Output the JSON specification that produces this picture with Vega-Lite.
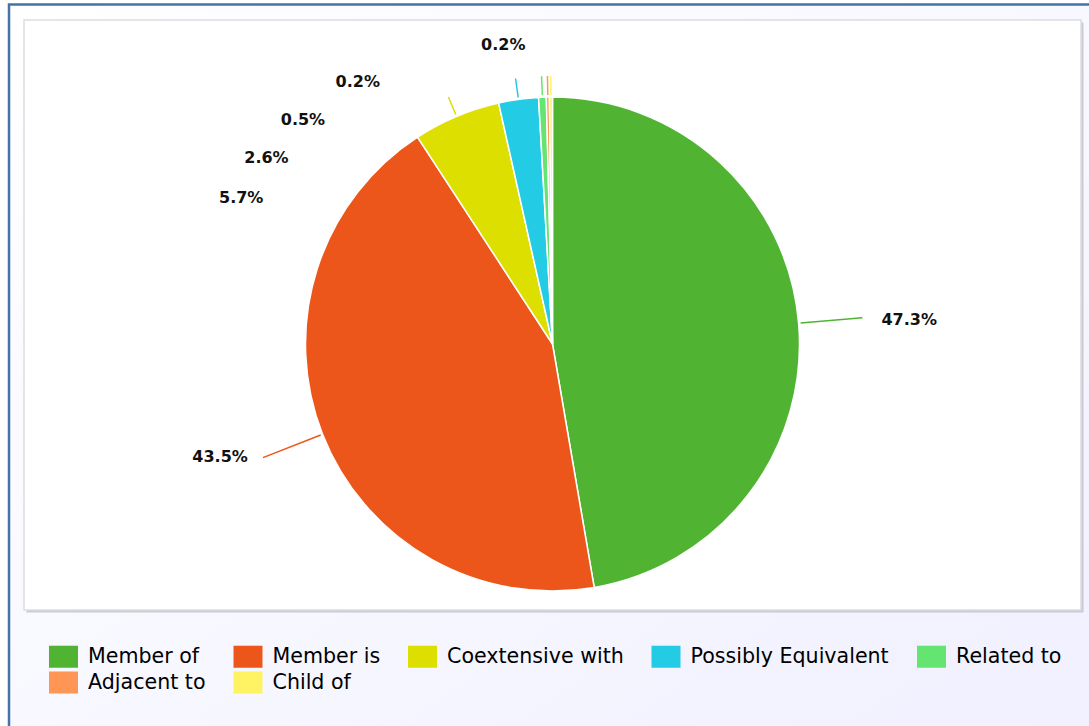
{
  "$schema": "https://vega.github.io/schema/vega-lite/v6.json",
  "width": 1057,
  "height": 590,
  "autosize": {"type": "none"},
  "padding": {"left": 24, "top": 20, "right": 8, "bottom": 116},
  "background": "#ffffff",
  "config": {
    "view": {"stroke": null}
  },
  "datasets": {
    "relations": [
      {"relation": "Member of", "value": 47.3},
      {"relation": "Member is", "value": 43.5},
      {"relation": "Coextensive with", "value": 5.7},
      {"relation": "Possibly Equivalent", "value": 2.6},
      {"relation": "Related to", "value": 0.5},
      {"relation": "Adjacent to", "value": 0.2},
      {"relation": "Child of", "value": 0.2}
    ]
  },
  "layer": [
    {
      "data": {"values": [{"panel": "chart"}]},
      "mark": {
        "type": "rect",
        "fill": {
          "gradient": "linear",
          "x1": 0, "y1": 0, "x2": 1, "y2": 1,
          "stops": [
            {"offset": 0, "color": "#ffffff"},
            {"offset": 1, "color": "#f0f0ff"}
          ]
        },
        "stroke": "#4572A7",
        "strokeWidth": 2.5,
        "xOffset": -15,
        "yOffset": -15.5,
        "x2Offset": 30,
        "y2Offset": 140
      },
      "encoding": {
        "x": {"value": 0},
        "x2": {"value": "width"},
        "y": {"value": 0},
        "y2": {"value": "height"}
      }
    },
    {
      "data": {"values": [{"panel": "shadow"}]},
      "mark": {
        "type": "rect",
        "fill": "#b8b8c0",
        "opacity": 0.7,
        "xOffset": 2.5,
        "yOffset": 2.5,
        "x2Offset": 2.5,
        "y2Offset": 2.5
      },
      "encoding": {
        "x": {"value": 0},
        "x2": {"value": "width"},
        "y": {"value": 0},
        "y2": {"value": "height"}
      }
    },
    {
      "data": {"values": [{"panel": "plot"}]},
      "mark": {"type": "rect", "fill": "#ffffff", "stroke": "#dcdce2", "strokeWidth": 1.5},
      "encoding": {
        "x": {"value": 0},
        "x2": {"value": "width"},
        "y": {"value": 0},
        "y2": {"value": "height"}
      }
    },
    {
      "data": {"name": "relations"},
      "mark": {
        "type": "arc",
        "outerRadius": 247,
        "stroke": "#ffffff",
        "strokeWidth": 1.5,
        "opacity": 1,
        "y": {"expr": "height/2 + 29"}
      },
      "encoding": {
        "theta": {"field": "value", "type": "quantitative", "stack": true},
        "order": {"field": "value", "type": "quantitative", "sort": "descending"},
        "color": {
          "field": "relation",
          "type": "nominal",
          "scale": {
            "domain": ["Member of", "Member is", "Coextensive with", "Possibly Equivalent", "Related to", "Adjacent to", "Child of"],
            "range": ["#50B432", "#ED561B", "#DDDF00", "#24CBE5", "#64E572", "#FF9655", "#FFF263"]
          },
          "legend": {
            "title": null,
            "orient": "none",
            "legendX": 25,
            "legendY": 622,
            "direction": "horizontal",
            "columns": 5,
            "symbolType": "M-1,-0.76L1,-0.76L1,0.76L-1,0.76Z",
            "symbolSize": 841,
            "symbolStrokeWidth": 0,
            "symbolOpacity": 1,
            "labelFont": "DejaVu Sans",
            "labelFontSize": 20.6,
            "labelColor": "#000000",
            "labelOffset": 10,
            "columnPadding": 27.5,
            "rowPadding": 0,
            "labelLimit": 0,
            "padding": 0
          }
        }
      }
    },
    {
      "data": {"name": "relations"},
      "mark": {
        "type": "arc",
        "filled": false,
        "radius": 249,
        "radius2": {"expr": "datum.value > 10 ? 311 : 268"},
        "padAngle": 3,
        "strokeWidth": 1.5,
        "opacity": 1,
        "y": {"expr": "height/2 + 29"}
      },
      "encoding": {
        "theta": {"field": "value", "type": "quantitative", "stack": true},
        "order": {"field": "value", "type": "quantitative", "sort": "descending"},
        "color": {"field": "relation", "type": "nominal"}
      }
    },
    {
      "data": {"name": "relations"},
      "mark": {
        "type": "text",
        "radius": 356,
        "font": "DejaVu Sans",
        "fontWeight": "bold",
        "fontSize": 16,
        "align": "center",
        "baseline": "middle",
        "fill": "#111111",
        "y": {"expr": "height/2 + 29"},
        "text": {"expr": "format(datum.value, '.1f') + '%'"},
        "dx": {"expr": "datum.relation == 'Member of' ? 2 : datum.relation == 'Member is' ? -1 : datum.relation == 'Coextensive with' ? -173 : datum.relation == 'Possibly Equivalent' ? -237 : datum.relation == 'Related to' ? -235 : datum.relation == 'Adjacent to' ? -188 : -47"},
        "dy": {"expr": "datum.relation == 'Member of' ? 6 : datum.relation == 'Member is' ? -17 : datum.relation == 'Coextensive with' ? 182 : datum.relation == 'Possibly Equivalent' ? 167 : datum.relation == 'Related to' ? 132 : datum.relation == 'Adjacent to' ? 94 : 57"}
      },
      "encoding": {
        "theta": {"field": "value", "type": "quantitative", "stack": true},
        "order": {"field": "value", "type": "quantitative", "sort": "descending"}
      }
    }
  ]
}
